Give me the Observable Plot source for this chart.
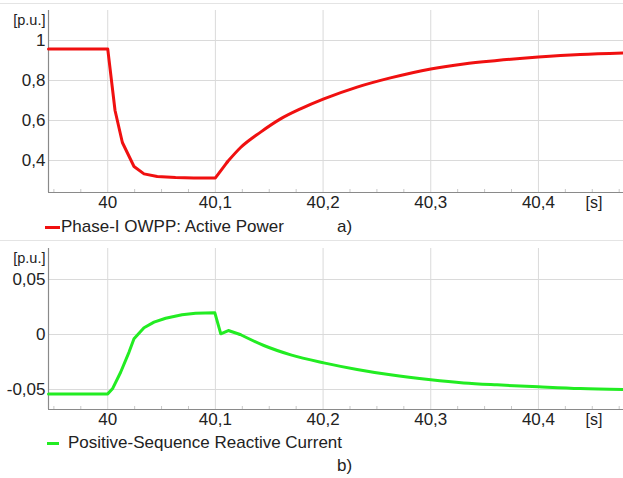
<!DOCTYPE html>
<html>
<head>
<meta charset="utf-8">
<script src="https://cdn.jsdelivr.net/npm/d3@7"></script>
<script src="https://cdn.jsdelivr.net/npm/@observablehq/plot@0.6"></script>
<style>
  html, body { margin: 0; padding: 0; background: #fff; }
  #wrap { position: relative; width: 623px; height: 478px; overflow: hidden; font-family: "Liberation Sans", Arial, sans-serif; color: #222; }
  .sep { position: absolute; left: 0; width: 623px; height: 0; border-top: 1px solid #e4e4e4; }
  .leg { position: absolute; font-size: 17px; white-space: nowrap; line-height: 17px; height: 17px; }
  .sw { position: absolute; height: 3px; }
</style>
</head>
<body>
<div id="wrap"></div>
<script>
// ---- data ----
const xTicks = [40, 40.1, 40.2, 40.3, 40.4];
const xMinor = [39.95, 39.975, 40.025, 40.05, 40.075, 40.125, 40.15, 40.175, 40.225, 40.25, 40.275, 40.325, 40.35, 40.375, 40.425, 40.45, 40.475];
const xDomain = [39.945, 40.479];

const tP = [39.945, 40.0, 40.0068, 40.0136, 40.0244, 40.0337, 40.046, 40.063, 40.08, 40.1, 40.111, 40.1234, 40.142, 40.1605, 40.179, 40.2007, 40.2316, 40.2625, 40.3, 40.3306, 40.3615, 40.4, 40.4388, 40.479];
const activePower = [0.958, 0.958, 0.65, 0.49, 0.37, 0.333, 0.32, 0.315, 0.313, 0.313, 0.392, 0.465, 0.542, 0.608, 0.658, 0.708, 0.767, 0.813, 0.858, 0.883, 0.90, 0.917, 0.93, 0.938];
const splitP = 40.111;
const yTicksP = [0.4, 0.6, 0.8, 1];
const yDomainP = [0.24, 1.15];

const tQ = [39.945, 40.0, 40.0044, 40.012, 40.0198, 40.0244, 40.0337, 40.043, 40.0538, 40.069, 40.0816, 40.0995, 40.105, 40.112, 40.123, 40.145, 40.170, 40.2007, 40.2316, 40.2625, 40.3, 40.3306, 40.3615, 40.4, 40.4388, 40.479];
const reactiveCurrent = [-0.054, -0.054, -0.0494, -0.0343, -0.016, -0.0039, 0.0061, 0.0112, 0.0148, 0.0179, 0.0194, 0.0197, 0.0006, 0.0036, 0.0, -0.010, -0.0185, -0.0258, -0.0318, -0.0367, -0.0412, -0.044, -0.0458, -0.0476, -0.0492, -0.050];
const splitQ = 40.123;
const yTicksQ = [-0.05, 0, 0.05];
const yDomainQ = [-0.0682, 0.0782];

const labels = {
  a: "Phase-I OWPP: Active Power",
  b: "Positive-Sequence Reactive Current",
  unitY: "[p.u.]",
  unitX: "[s]",
  panelA: "a)",
  panelB: "b)"
};
const colors = { a: "#f01010", b: "#22ec22" };

const fmt = d => String(d).replace(".", ",");

function panel(t, v, split, yTicks, yDomain, color, height, marginTop, marginBottom) {
  const data = t.map((x, i) => ({ t: x, v: v[i] }));
  const early = data.filter(d => d.t <= split);
  const late = data.filter(d => d.t >= split);
  return Plot.plot({
    width: 623,
    height,
    marginLeft: 48,
    marginRight: 0,
    marginTop,
    marginBottom,
    style: { fontFamily: "Liberation Sans, Arial, sans-serif", fontSize: "17px", color: "#222", background: "transparent", overflow: "visible" },
    x: { domain: xDomain, ticks: xTicks, label: null },
    y: { domain: yDomain, ticks: yTicks, label: null },
    marks: [
      Plot.gridX(xTicks, { stroke: "#dadada", strokeOpacity: 1 }),
      Plot.gridY(yTicks, { stroke: "#dadada", strokeOpacity: 1 }),
      Plot.axisX(xMinor, { tickSize: -3, text: null, label: null, stroke: "#c8c8c8" }),
      Plot.axisX(xTicks, { tickSize: 0, tickPadding: 3, tickFormat: fmt, label: null, fill: "#222" }),
      Plot.axisY(yTicks, { tickSize: 0, tickPadding: 3, tickFormat: fmt, label: null, fill: "#222" }),
      Plot.ruleX([xDomain[0]], { stroke: "#8a8a8a", strokeWidth: 1.2 }),
      Plot.ruleY([yDomain[0]], { stroke: "#8a8a8a", strokeWidth: 1.2 }),
      Plot.line(early, { x: "t", y: "v", stroke: color, strokeWidth: 3, strokeLinejoin: "round", strokeLinecap: "round" }),
      Plot.line(late, { x: "t", y: "v", stroke: color, strokeWidth: 3, strokeLinejoin: "round", strokeLinecap: "round", curve: "monotone-x" }),
      Plot.text([labels.unitY], { frameAnchor: "top-left", dx: -3, dy: 10, textAnchor: "end", lineAnchor: "middle", fontSize: 14.5, fill: "#222" }),
      Plot.text([labels.unitX], { frameAnchor: "bottom-right", dx: -21, dy: 10, textAnchor: "end", lineAnchor: "middle", fontSize: 16, fill: "#222" })
    ]
  });
}

const wrap = document.getElementById("wrap");

const sep1 = document.createElement("div"); sep1.className = "sep"; sep1.style.top = "3px"; wrap.appendChild(sep1);
const sep2 = document.createElement("div"); sep2.className = "sep"; sep2.style.top = "240px"; wrap.appendChild(sep2);

const p1 = panel(tP, activePower, splitP, yTicksP, yDomainP, colors.a, 212, 10, 20);
p1.style.position = "absolute"; p1.style.left = "0px"; p1.style.top = "0px";
wrap.appendChild(p1);

const p2 = panel(tQ, reactiveCurrent, splitQ, yTicksQ, yDomainQ, colors.b, 200, 18, 21);
p2.style.position = "absolute"; p2.style.left = "0px"; p2.style.top = "230px";
wrap.appendChild(p2);

function legend(text, color, swLeft, swWidth, textLeft, cy) {
  const sw = document.createElement("div");
  sw.className = "sw";
  sw.style.left = swLeft + "px"; sw.style.width = swWidth + "px";
  sw.style.top = (cy - 1.5) + "px"; sw.style.background = color;
  wrap.appendChild(sw);
  const t = document.createElement("div");
  t.className = "leg";
  t.textContent = text;
  t.style.left = textLeft + "px"; t.style.top = (cy - 9) + "px";
  wrap.appendChild(t);
}
function tag(text, left, cy) {
  const t = document.createElement("div");
  t.className = "leg";
  t.textContent = text;
  t.style.left = left + "px"; t.style.top = (cy - 9) + "px";
  wrap.appendChild(t);
}

legend(labels.a, colors.a, 45, 15, 61, 227);
tag(labels.panelA, 337, 227);
legend(labels.b, colors.b, 47, 12, 68, 443);
tag(labels.panelB, 337, 466);
</script>
</body>
</html>
